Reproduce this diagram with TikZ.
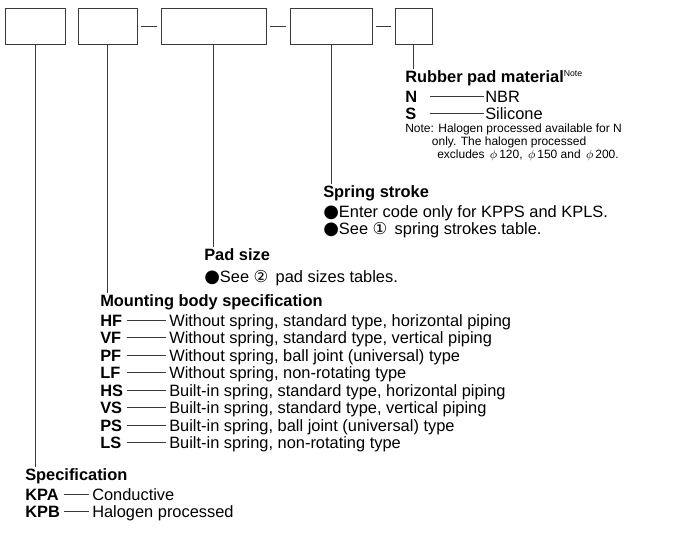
\documentclass[tikz,border=0pt]{standalone}
\usepackage{fontspec}
\setmainfont{Liberation Sans}
\newfontfamily\symfont{DejaVu Sans}
\usetikzlibrary{positioning}
\usetikzlibrary{calc}
\definecolor{rule}{HTML}{3A3A3A}
\newcommand{\blt}{\smash{\symfont\fontsize{13.5}{13.5}\selectfont ●}}
\newcommand{\notemark}{\raisebox{4.4pt}{\fontsize{6.5}{7}\selectfont\mdseries Note}}
\newcommand{\cnum}[1]{{\symfont #1}}

\begin{document}
\begin{tikzpicture}[
  x=0.75pt, y=-0.75pt,
  font=\fontsize{12.3}{13}\selectfont,
  field/.style={
    draw=rule, line width=0.5pt,
    minimum width=#1, minimum height=27pt,
    inner sep=0pt, outer sep=0pt},
  link/.style={
    draw=rule, line width=0.5pt,
    shorten <=3pt, shorten >=3pt},
  lead/.style={
    draw=rule, line width=0.5pt},
  heading/.style={
    anchor=west, inner sep=0pt,
    text height=9pt, text depth=2.5pt,
    font=\fontsize{12.3}{13}\selectfont\bfseries},
  codecol/.style={
    anchor=west, inner sep=0pt,
    text height=9pt, text depth=0pt, text width=#1,
    font=\fontsize{12.3}{13}\selectfont\bfseries},
  entry/.style={
    anchor=west, inner sep=0pt,
    text height=9pt, text depth=0pt},
]

  \def\rowh{17.5}%
  \def\mbase{320}%

  \useasboundingbox (0,0) rectangle (680,542);

  % Code fields
  \node[field=45pt]    (b1) at (35,26)    {};
  \node[field=44.25pt] (b2) at (107.5,26) {};
  \node[field=78.75pt] (b3) at (213.5,26) {};
  \node[field=61.5pt]  (b4) at (331,26)   {};
  \node[field=27.75pt] (b5) at (413.5,26) {};

  \draw[link] (b2.east) -- (b3.west);
  \draw[link] (b3.east) -- (b4.west);
  \draw[link] (b4.east) -- (b5.west);

  % Rubber pad material
  \node[heading] (rubber) at (405,78) {Rubber pad material\notemark};
  \foreach \c/\t/\y in {N/NBR/96, S/Silicone/113} {
    \node[codecol=18pt] (rp\c) at (405,\y) {\c};
    \node[entry] (rpt\c) at (485,\y) {\t};
    \draw[lead, shorten >=1pt] (rp\c.east) -- (rpt\c.west);
  }
  \node[anchor=north west, inner sep=0pt, align=left,
        font=\fontsize{9}{9.75}\selectfont] (note) at (405,124)
    {Note: Halogen processed available for N\\
     \hspace*{20pt}only. The halogen processed\\
     \hspace*{24pt}excludes \,$\phi$\,120, \,$\phi$\,150 and \,$\phi$\,200.};

  % Spring stroke
  \node[heading] (spring) at (323,193) {Spring stroke};
  \node[entry] (spring1) at (323,211) {\blt Enter code only for KPPS and KPLS.};
  \node[entry] (spring2) at (323,228) {\blt See \cnum{①}\, spring strokes table.};

  % Pad size
  \node[heading] (pad) at (204,256) {Pad size};
  \node[entry] (pad1) at (204,276) {\blt See \cnum{②}\, pad sizes tables.};

  % Mounting body specification
  \node[heading] (mount) at (100,302) {Mounting body specification};
  \foreach \c/\t [count=\i from 0] in {
      HF/{Without spring, standard type, horizontal piping},
      VF/{Without spring, standard type, vertical piping},
      PF/{Without spring, ball joint (universal) type},
      LF/{Without spring, non-rotating type},
      HS/{Built-in spring, standard type, horizontal piping},
      VS/{Built-in spring, standard type, vertical piping},
      PS/{Built-in spring, ball joint (universal) type},
      LS/{Built-in spring, non-rotating type}} {
    \node[codecol=19.5pt] (mb\i) at (100,\mbase+\i*\rowh) {\c};
    \node[entry] (mbt\i) at (169,\mbase+\i*\rowh) {\t};
    \draw[lead, shorten >=2pt] (mb\i.east) -- (mbt\i.west);
  }

  % Specification
  \node[heading] (spec) at (25,476) {Specification};
  \foreach \c/\t/\y in {KPA/Conductive/494, KPB/Halogen processed/511} {
    \node[codecol=28.5pt] (sp\c) at (25,\y) {\c};
    \node[entry] (spt\c) at (92,\y) {\t};
    \draw[lead, shorten >=2pt] (sp\c.east) -- (spt\c.west);
  }

  % Leaders from fields
  \draw[lead, shorten >=1pt] (b1.south) -- (b1.south |- spec.north);
  \draw[lead, shorten >=1pt] (b2.south) -- (b2.south |- mount.north);
  \draw[lead, shorten >=1pt] (b3.south) -- (b3.south |- pad.north);
  \draw[lead, shorten >=1pt] (b4.south) -- (b4.south |- spring.north);
  \draw[lead, shorten >=1pt] (b5.south) -- (b5.south |- rubber.north);

\end{tikzpicture}
\end{document}
